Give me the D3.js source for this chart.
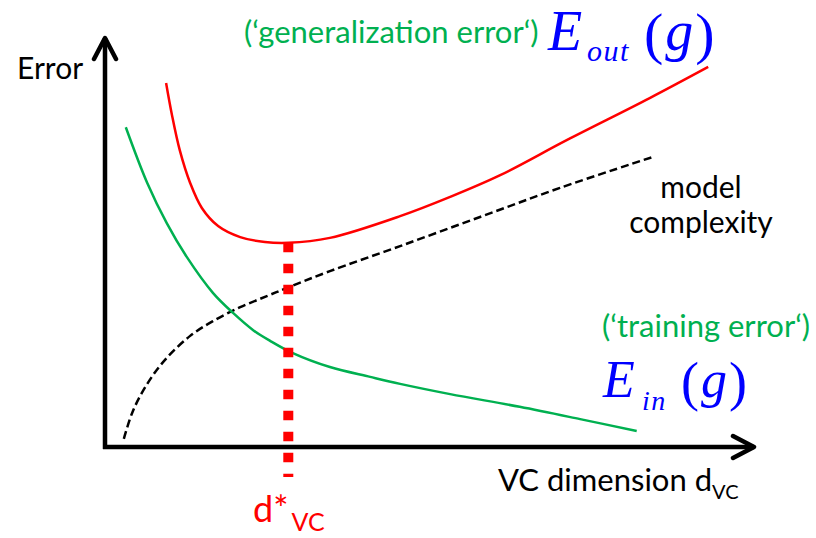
<!doctype html>
<html lang="en">

<head>
  <meta charset="utf-8">
  <title>VC dimension - D3</title>
  <style>
    body { margin: 0; background: #fff; }
    svg { display: block; }
  </style>
</head>

<body>
  <svg></svg>

  <script src="https://cdn.jsdelivr.net/npm/d3@7"></script>
  <script>
    // data (x: VC dimension, y: error, both 0..10)
    var eOutX = [0.94, 1.03, 1.15, 1.31, 1.49, 1.74, 2.08, 2.46, 2.82, 3.46, 4.54, 5.31, 6.08, 7.11, 8.38, 9.28];
    var eOutY = [8.88, 8.10, 7.24, 6.44, 5.83, 5.39, 5.12, 5.00, 4.98, 5.10, 5.63, 6.10, 6.63, 7.49, 8.51, 9.27];

    var eInX = [0.32, 0.65, 0.95, 1.26, 1.66, 1.97, 2.28, 2.54, 2.89, 3.46, 4.08, 4.54, 5.31, 6.38, 7.31, 8.18];
    var eInY = [7.80, 6.44, 5.46, 4.63, 3.76, 3.27, 2.85, 2.59, 2.29, 1.95, 1.71, 1.54, 1.29, 0.98, 0.68, 0.39];

    var complexX = [0.29, 0.43, 0.65, 0.92, 1.31, 1.66, 2.08, 2.49, 2.83, 3.46, 4.54, 5.77, 7.00, 8.42];
    var complexY = [0.20, 0.88, 1.54, 2.12, 2.71, 3.07, 3.41, 3.68, 3.90, 4.29, 4.90, 5.61, 6.32, 7.07];

    // best VC dimension = where E_out is lowest
    var dStar = eOutX[d3.minIndex(eOutY)];

    var width = 816;
    var height = 538;
    var green = '#00b050';
    var blue = '#0000ff';
    var sans = 'Lato, "Open Sans", sans-serif';
    var serif = '"Liberation Serif", "DejaVu Serif", serif';

    var svg = d3.select('svg')
      .attr('width', width)
      .attr('height', height);

    var xScale = d3.scaleLinear().domain([0, 10]).range([105, 755]);
    var yScale = d3.scaleLinear().domain([0, 10]).range([447, 37]);

    var line = d3.line()
      .x(d => xScale(d[0]))
      .y(d => yScale(d[1]))
      .curve(d3.curveCatmullRom.alpha(0.5));

    // axes with open arrow heads
    var x0 = xScale(0), y0 = yScale(0);
    var xTip = 754, yTip = 38;
    svg.append('path')
      .attr('d', 'M' + x0 + ',' + (y0 + 2) + 'V' + yTip + 'M' + (x0 - 2) + ',' + y0 + 'H' + xTip)
      .attr('fill', 'none')
      .attr('stroke', '#000')
      .attr('stroke-width', 4.5);
    svg.append('path')
      .attr('d', 'M' + (x0 - 11) + ',' + (yTip + 21) + 'L' + x0 + ',' + yTip + 'L' + (x0 + 11) + ',' + (yTip + 21)
        + 'M' + (xTip - 21) + ',' + (y0 - 11) + 'L' + xTip + ',' + y0 + 'L' + (xTip - 21) + ',' + (y0 + 11))
      .attr('fill', 'none')
      .attr('stroke', '#000')
      .attr('stroke-width', 4.5)
      .attr('stroke-linecap', 'round')
      .attr('stroke-linejoin', 'round');

    // model complexity (dashed)
    svg.append('path')
      .datum(d3.zip(complexX, complexY))
      .attr('fill', 'none')
      .attr('stroke', '#000')
      .attr('stroke-width', 2.5)
      .attr('stroke-dasharray', '8,4')
      .attr('d', line);

    // E_in
    svg.append('path')
      .datum(d3.zip(eInX, eInY))
      .attr('fill', 'none')
      .attr('stroke', green)
      .attr('stroke-width', 2.5)
      .attr('d', line);

    // E_out
    svg.append('path')
      .datum(d3.zip(eOutX, eOutY))
      .attr('fill', 'none')
      .attr('stroke', 'red')
      .attr('stroke-width', 2.5)
      .attr('d', line);

    // d*_VC marker
    svg.append('line')
      .attr('x1', xScale(dStar))
      .attr('x2', xScale(dStar))
      .attr('y1', yScale(d3.min(eOutY)))
      .attr('y2', 477)
      .attr('stroke', 'red')
      .attr('stroke-width', 10)
      .attr('stroke-dasharray', '9.5,11.5');

    // texts
    svg.append('text')
      .attr('x', 17).attr('y', 79)
      .attr('font-family', sans).attr('font-size', 30)
      .text('Error');

    svg.append('text')
      .attr('x', 244).attr('y', 43)
      .attr('font-family', sans).attr('font-size', 31)
      .attr('fill', green)
      .text('(\u2018generalization error\u2018)');

    svg.append('text')
      .attr('x', 602).attr('y', 337)
      .attr('font-family', sans).attr('font-size', 31)
      .attr('fill', green)
      .text('(\u2018training error\u2018)');

    var mc = svg.append('text')
      .attr('font-family', sans).attr('font-size', 30)
      .attr('text-anchor', 'middle');
    mc.append('tspan').attr('x', 701).attr('y', 198).text('model');
    mc.append('tspan').attr('x', 701).attr('y', 233).text('complexity');

    // E_out(g), E_in(g)
    function mathLabel(p) {
      var g = svg.append('g')
        .attr('font-family', serif)
        .attr('fill', blue);
      g.append('text').attr('x', p.x).attr('y', p.y)
        .attr('font-size', p.size).attr('font-style', 'italic').text('E');
      g.append('text').attr('x', p.subX).attr('y', p.subY)
        .attr('font-size', p.subSize).attr('font-style', 'italic')
        .attr('letter-spacing', 1.5).text(p.sub);
      var arg = g.append('text').attr('x', p.parX).attr('y', p.y + 3)
        .attr('font-size', p.parSize);
      arg.append('tspan').text('(');
      arg.append('tspan').attr('font-size', p.size).attr('font-style', 'italic')
        .attr('dx', 2).attr('dy', -3).text('g');
      arg.append('tspan').attr('dx', 2).attr('dy', 3).text(')');
    }
    mathLabel({ x: 548, y: 50, size: 56, sub: 'out', subX: 587, subY: 61, subSize: 30,
      parX: 644, parSize: 58 });
    mathLabel({ x: 603, y: 397, size: 52, sub: 'in', subX: 642, subY: 410, subSize: 28,
      parX: 681, parSize: 54 });

    var vc = svg.append('text')
      .attr('x', 498).attr('y', 491)
      .attr('font-family', sans).attr('font-size', 31);
    vc.append('tspan').text('VC dimension d');
    vc.append('tspan').attr('font-size', 20).attr('dy', 8).text('VC');

    var ds = svg.append('text')
      .attr('x', 253).attr('y', 522)
      .attr('font-family', sans).attr('font-size', 36)
      .attr('fill', 'red');
    ds.append('tspan').text('d*');
    ds.append('tspan').attr('font-size', 25).attr('dx', 3).attr('dy', 9).text('VC');
  </script>
</body>

</html>
